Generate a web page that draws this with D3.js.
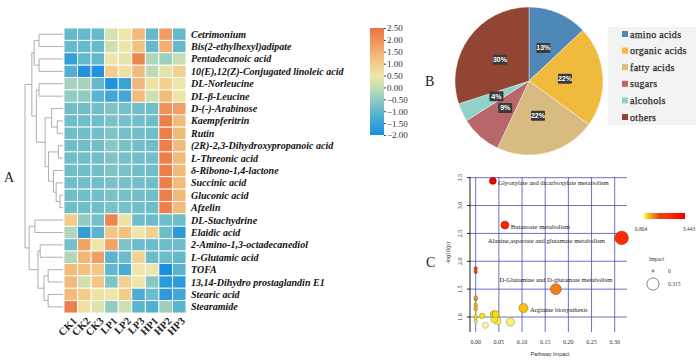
<!DOCTYPE html>
<html>
<head>
<meta charset="utf-8">
<script src="https://cdn.jsdelivr.net/npm/d3@7"></script>
<style>
  body { margin: 0; background: #fff; }
  svg { display: block; }
</style>
</head>
<body>
<div id="chart"></div>
<script>
// ---- Panel A: heatmap data ----
const samples = ["CK1", "CK2", "CK3", "LP1", "LP2", "LP3", "HP1", "HP2", "HP3"];
const metabolites = [
  "Cetrimonium", "Bis(2-ethylhexyl)adipate", "Pentadecanoic acid",
  "10(E),12(Z)-Conjugated linoleic acid", "DL-Norleucine", "DL-\u03B2-Leucine",
  "D-(-)-Arabinose", "Kaempferitrin", "Rutin", "(2R)-2,3-Dihydroxypropanoic acid",
  "L-Threonic acid", "\u03B4-Ribono-1,4-lactone", "Succinic acid", "Gluconic acid",
  "Afzelin", "DL-Stachydrine", "Elaidic acid", "2-Amino-1,3-octadecanediol",
  "L-Glutamic acid", "TOFA", "13,14-Dihydro prostaglandin E1", "Stearic acid", "Stearamide"
];
const zScores = [
  [-0.95, -0.95, -0.95, 0.2, 0.5, 1.3, -0.95, 1.8, -0.95],
  [-0.95, -0.95, -0.95, 0.1, 0.5, 1.2, -0.95, 1.5, -0.95],
  [-1.6, -1.0, -1.0, 0.5, 0.4, 2.2, -0.2, -0.4, 0.0],
  [-1.2, -1.9, -1.9, 1.0, 0.6, 1.3, -0.1, 0.4, 0.9],
  [-0.3, -0.3, -1.0, -1.9, -1.5, 1.4, 0.6, 0.9, 0.5],
  [-0.5, -0.5, -1.1, -1.4, -1.4, 1.3, 0.1, 1.3, 0.5],
  [-0.85, -0.85, -0.85, -0.7, -0.8, -0.85, -0.85, 2.0, 1.8],
  [-0.85, -0.85, -0.85, -0.75, -0.8, -0.85, -0.85, 2.3, 1.3],
  [-0.85, -0.85, -0.85, -0.7, -0.8, -0.85, -0.85, 2.3, 1.3],
  [-0.85, -0.85, -0.85, -0.6, -0.75, -0.85, -0.85, 2.3, 1.3],
  [-0.85, -0.85, -0.85, -0.7, -0.8, -0.85, -0.85, 2.3, 1.3],
  [-0.85, -0.85, -0.85, -0.7, -0.75, -0.85, -0.85, 2.3, 1.3],
  [-0.85, -0.85, -0.85, -0.75, -0.8, -0.85, -0.85, 2.3, 1.3],
  [-0.85, -0.85, -0.85, -0.75, -0.8, -0.85, -0.85, 2.3, 1.3],
  [-0.85, -0.85, -0.85, -0.75, -0.8, -0.85, -0.85, 2.3, 1.3],
  [1.0, -0.5, -0.8, 2.2, 0.6, -0.9, -0.9, -0.9, -0.9],
  [-0.2, -1.6, -1.1, 1.1, 1.2, 0.5, 0.9, -0.9, -1.7],
  [-0.8, 1.7, 0.5, 1.7, -0.7, -0.9, -0.9, -0.9, -0.9],
  [-0.2, 1.4, 1.8, -1.1, -0.9, 0.9, -0.9, -0.9, -1.0],
  [1.3, 1.2, 1.1, -1.0, -1.3, 0.5, 0.5, -2.0, -1.1],
  [1.3, 0.1, 1.1, -0.7, 0.9, 0.5, -0.6, -1.7, -1.7],
  [1.3, 1.0, 0.6, 0.5, 1.0, -1.3, -0.9, -1.7, -1.4],
  [2.3, 0.6, 0.3, -0.5, 0.1, -1.1, -1.2, -0.4, -1.1]
];
// row dendrogram: [height, left, right], leaves are row indices
const rowTree = [10,
  [8.2,
    [7.6, [6.3, 0, 1], [6.3, 2, 3]],
    [7.0, [6.3, 4, 5],
      [4.7, [3.0, 6, [1.5, 7, 8]], [3.8, [1.2, 9, 10], [2.5, 11, [1.8, 12, [0.8, 13, 14]]]]]]],
  [8.9,
    [7.4, 15, 16],
    [6.6, [6.0, 17, 18], [5.0, [3.9, 19, 20], [3.9, 21, 22]]]]
];
const colorbarTicks = [2.5, 2.0, 1.5, 1.0, 0.5, 0.0, -0.5, -1.0, -1.5, -2.0];
const heatStops = [-2, -1.5, -1, -0.5, 0, 0.5, 1, 1.5, 2, 2.5];
const heatColors = ["#1a8ee0", "#3ba2d6", "#62b8cd", "#92cbc2", "#c6deb5",
  "#eee6a8", "#f3cc8a", "#f2b072", "#ee925a", "#ea7440"];

// ---- Panel B: pie data ----
const pieCategories = ["amino acids", "organic acids", "fatty acids", "sugars", "alcohols", "others"];
const piePercents = [13, 22, 22, 9, 4, 30];
const pieColors = ["#4d88b8", "#f0ba3c", "#d8bb80", "#b7666a", "#8fd3c7", "#924532"];

// ---- Panel C: pathway bubble data ----
const pathwayNames = [
  "Glyoxylate and dicarboxylate metabolism", "Butanoate metabolism",
  "Alanine,aspartate and glutamate metabolism", "D-Glutamine and D-glutamate metabolism",
  "Arginine biosynthesis"
];
const pathwayImpact = [0.037, 0.063, 0.315, 0.173, 0.103,
  0, 0, 0, 0, 0, 0, 0, 0, 0, 0, 0.014, 0.021, 0.039, 0.043, 0.040, 0.047, 0.075];
const pathwayLogP = [3.443, 2.65, 2.42, 1.50, 1.16,
  1.87, 1.81, 1.35, 1.32, 1.22, 1.17, 1.14, 1.02, 0.98, 0.92, 1.02, 0.85, 1.05, 1.05, 0.96, 0.93, 0.91];
const pathwayLabelPos = ["right", "right", "left", "above", "right"];
const impactTicks = [0, 0.05, 0.10, 0.15, 0.20, 0.25, 0.30];
const logPTicks = [1.0, 1.5, 2.0, 2.5, 3.0, 3.5];

const W = 696, H = 360;
const serif = "'Liberation Serif', 'Times New Roman', serif";
const sans = "'Liberation Sans', Arial, sans-serif";
const svg = d3.select("#chart").append("svg").attr("width", W).attr("height", H);

// ================= Panel A =================
const hx = d3.scaleBand().domain(d3.range(samples.length)).range([64, 186]);
const hy = d3.scaleBand().domain(d3.range(metabolites.length)).range([28, 313]);
const heatColor = d3.scaleLinear().domain(heatStops).range(heatColors).clamp(true);

const cells = svg.append("g");
zScores.forEach((row, i) => {
  row.forEach((v, j) => {
    cells.append("rect")
      .attr("x", hx(j)).attr("y", hy(i))
      .attr("width", hx.bandwidth()).attr("height", hy.bandwidth())
      .attr("fill", heatColor(v))
      .attr("stroke", "#ffffff").attr("stroke-width", 0.9);
  });
});

svg.append("g").selectAll("text").data(metabolites).join("text")
  .attr("x", 191).attr("y", (d, i) => hy(i) + hy.bandwidth() / 2)
  .attr("dy", "0.35em")
  .attr("font-family", serif).attr("font-size", 10)
  .attr("font-weight", "bold").attr("font-style", "italic")
  .attr("fill", "#111").text(d => d);

svg.append("g").selectAll("text").data(samples).join("text")
  .attr("transform", (d, i) => `translate(${hx(i) + hx.bandwidth() / 2 + 4},${319}) rotate(-45)`)
  .attr("text-anchor", "end").attr("dy", "0.35em")
  .attr("font-family", serif).attr("font-size", 10.5).attr("font-weight", "bold")
  .attr("fill", "#222").text(d => d);

// dendrogram
const dx = d3.scaleLinear().domain([0, 10]).range([63, 25]);
const dend = svg.append("g").attr("stroke", "#9a9a9a").attr("stroke-width", 0.8).attr("fill", "none");
function layout(node) {
  if (typeof node === "number") return { y: hy(node) + hy.bandwidth() / 2, h: 0 };
  const a = layout(node[1]), b = layout(node[2]);
  const x = dx(node[0]);
  dend.append("path").attr("d",
    `M${dx(a.h)},${a.y}H${x}V${b.y}H${dx(b.h)}`);
  return { y: (a.y + b.y) / 2, h: node[0] };
}
layout(rowTree);

// colour bar
const cb = d3.scaleLinear().domain([-2, 2.5]).range([135, 28]);
const defs = svg.append("defs");
const grad = defs.append("linearGradient").attr("id", "heatGrad")
  .attr("x1", 0).attr("y1", 1).attr("x2", 0).attr("y2", 0);
heatStops.forEach((s, i) => {
  grad.append("stop").attr("offset", (s + 2) / 4.5).attr("stop-color", heatColors[i]);
});
svg.append("rect").attr("x", 370).attr("y", 28).attr("width", 14).attr("height", 107)
  .attr("fill", "url(#heatGrad)");
const cbAxis = svg.append("g").attr("transform", "translate(384,0)")
  .call(d3.axisRight(cb).tickValues(colorbarTicks).tickFormat(d3.format(".2f")).tickSize(2));
cbAxis.select(".domain").remove();
cbAxis.selectAll("line").attr("stroke", "#444");
cbAxis.selectAll("text").attr("font-family", serif).attr("font-size", 9).attr("fill", "#333").attr("x", 3);

// ================= Panel B =================
const pieG = svg.append("g").attr("transform", "translate(529,81)");
const pie = d3.pie().sort(null).value(d => d);
const arc = d3.arc().innerRadius(0).outerRadius(74);
const labelArc = d3.arc().innerRadius(36).outerRadius(36);
const arcs = pie(piePercents);
pieG.selectAll("path").data(arcs).join("path")
  .attr("d", arc).attr("fill", (d, i) => pieColors[i])
  .attr("stroke", "#fff").attr("stroke-width", 0.4);
const lab = pieG.selectAll("g.lab").data(arcs).join("g").attr("class", "lab")
  .attr("transform", d => `translate(${labelArc.centroid(d)})`);
lab.append("rect").attr("x", -7).attr("y", -5).attr("width", 14).attr("height", 10)
  .attr("rx", 1).attr("fill", "#3a3a3a");
lab.append("text").attr("text-anchor", "middle").attr("dy", "0.35em")
  .attr("font-family", sans).attr("font-size", 7)
  .attr("font-weight", "bold").attr("fill", "#fff").text(d => d.data + "%");

// legend
svg.append("rect").attr("x", 608).attr("y", 27).attr("width", 90).attr("height", 98).attr("fill", "#f3f3f3");
const legY = d3.scalePoint().domain(pieCategories).range([34, 117]);
const leg = svg.append("g").selectAll("g").data(pieCategories).join("g")
  .attr("transform", d => `translate(622,${legY(d)})`);
leg.append("rect").attr("x", 0).attr("y", -3).attr("width", 6).attr("height", 6)
  .attr("fill", (d, i) => pieColors[i]);
leg.append("text").attr("x", 8).attr("dy", "0.35em")
  .attr("font-family", serif).attr("font-size", 10)
  .attr("fill", "#2a2a2a").attr("stroke", "#2a2a2a").attr("stroke-width", 0.25)
  .attr("letter-spacing", 0.3).text(d => d);

// ================= Panel C =================
const px = d3.scaleLinear().domain([0, 0.3]).range([475.7, 614.7]);
const py = d3.scaleLinear().domain([1.0, 3.5]).range([317, 177.7]);
const pr = d3.scalePow().exponent(0.5).domain([0, 0.315]).range([1.7, 6.7]);
const pColor = d3.scaleLinear().domain([0.804, 1.0, 1.3, 1.8, 2.5, 3.443])
  .range(["#fffbe0", "#f7e51c", "#f7a21c", "#e8481a", "#ff2a00", "#ee0000"]).clamp(true);
const plotLeft = 470, plotRight = 627, plotTop = 177, plotBottom = 332;

const grid = svg.append("g").attr("stroke", "#4a4ab8").attr("stroke-width", 0.8);
grid.selectAll("line.v").data(impactTicks).join("line").attr("class", "v")
  .attr("x1", d => px(d)).attr("x2", d => px(d)).attr("y1", plotTop).attr("y2", plotBottom);
grid.selectAll("line.h").data(logPTicks).join("line").attr("class", "h")
  .attr("x1", plotLeft).attr("x2", plotRight).attr("y1", d => py(d)).attr("y2", d => py(d));

const yAx = svg.append("g").attr("transform", `translate(${plotLeft},0)`)
  .call(d3.axisLeft(py).tickValues(logPTicks).tickFormat(d3.format(".1f")).tickSize(3).tickSizeOuter(0));
yAx.select(".domain").attr("d", `M0,${plotTop}V${plotBottom}`).attr("stroke", "#222");
yAx.selectAll("line").attr("stroke", "#222");
yAx.selectAll("text").attr("font-family", serif).attr("font-size", 6).attr("fill", "#333")
  .attr("transform", "rotate(-90)").attr("text-anchor", "middle")
  .attr("x", d => -py(d)).attr("y", -8).attr("dy", "0");
yAx.selectAll(".tick").attr("transform", null);
yAx.selectAll(".tick line").attr("y1", d => py(d)).attr("y2", d => py(d));

svg.append("g").selectAll("text").data(impactTicks).join("text")
  .attr("x", d => px(d)).attr("y", 344).attr("text-anchor", "middle")
  .attr("font-family", serif).attr("font-size", 6).attr("fill", "#333")
  .text(d3.format(".2f"));
svg.append("text").attr("x", 550).attr("y", 356).attr("text-anchor", "middle")
  .attr("font-family", sans).attr("font-size", 5.5).attr("fill", "#333")
  .text("Pathway Impact");
svg.append("text").attr("transform", "translate(450,253) rotate(-90)").attr("text-anchor", "middle")
  .attr("font-family", sans).attr("font-size", 5.5).attr("fill", "#333")
  .text("-log10(p)");

const points = pathwayImpact.map((v, i) => ({ impact: v, logp: pathwayLogP[i], name: pathwayNames[i] || "", k: i }));
const order = points.slice().sort((a, b) => a.logp - b.logp);
svg.append("g").selectAll("circle").data(order).join("circle")
  .attr("cx", d => px(d.impact)).attr("cy", d => py(d.logp)).attr("r", d => pr(d.impact))
  .attr("fill", d => pColor(d.logp))
  .attr("stroke", d => d3.color(pColor(d.logp)).darker(1.2)).attr("stroke-width", 0.6);

const named = points.filter(d => d.name);
svg.append("g").selectAll("text").data(named).join("text")
  .attr("x", d => {
    const pos = pathwayLabelPos[d.k];
    if (pos === "left") return px(d.impact) - pr(d.impact) - 10;
    if (pos === "above") return px(d.impact);
    return px(d.impact) + pr(d.impact) + 2;
  })
  .attr("y", d => {
    const pos = pathwayLabelPos[d.k];
    if (pos === "above") return py(d.logp) - 9;
    if (pos === "left") return py(d.logp) + 2.5;
    return py(d.logp) + 2;
  })
  .attr("text-anchor", d => ({ right: "start", left: "end", above: "middle" })[pathwayLabelPos[d.k]])
  .attr("dy", "0.35em")
  .attr("font-family", serif).attr("font-size", 6.6).attr("fill", "#222")
  .text(d => d.name);

// p-value colour legend
const pGrad = defs.append("linearGradient").attr("id", "pGrad");
pColor.domain().forEach((v, i) => {
  pGrad.append("stop").attr("offset", (v - 0.804) / (3.443 - 0.804)).attr("stop-color", pColor.range()[i]);
});
pGrad.append("stop").attr("offset", 1).attr("stop-color", "#8b0a0a");
svg.append("rect").attr("x", 643).attr("y", 213).attr("width", 42).attr("height", 6).attr("fill", "url(#pGrad)");
svg.append("g").selectAll("text").data([0.804, 3.443]).join("text")
  .attr("x", (d, i) => i ? 689 : 641).attr("y", 231).attr("text-anchor", "middle")
  .attr("font-family", serif).attr("font-size", 5.5).attr("fill", "#333").text(d => d3.format(".3f")(d));

// impact size legend
svg.append("text").attr("x", 649).attr("y", 261)
  .attr("font-family", serif).attr("font-size", 5.5).attr("fill", "#333").text("Impact");
const sizeLeg = svg.append("g").selectAll("g").data([0, 0.315]).join("g")
  .attr("transform", (d, i) => `translate(653,${i ? 284 : 271})`);
sizeLeg.append("circle").attr("r", d => pr(d) - 0.6).attr("fill", "none").attr("stroke", "#333").attr("stroke-width", 0.6);
sizeLeg.append("text").attr("x", 15).attr("dy", "0.35em")
  .attr("font-family", serif).attr("font-size", 5.5).attr("fill", "#333").text(d => d === 0 ? "0" : d3.format(".3f")(d));

// panel letters
svg.append("g").selectAll("text")
  .data([["A", 4, 182], ["B", 425, 86], ["C", 426, 267]]).join("text")
  .attr("x", d => d[1]).attr("y", d => d[2])
  .attr("font-family", serif).attr("font-size", 14).attr("fill", "#222").text(d => d[0]);
</script>
</body>
</html>
